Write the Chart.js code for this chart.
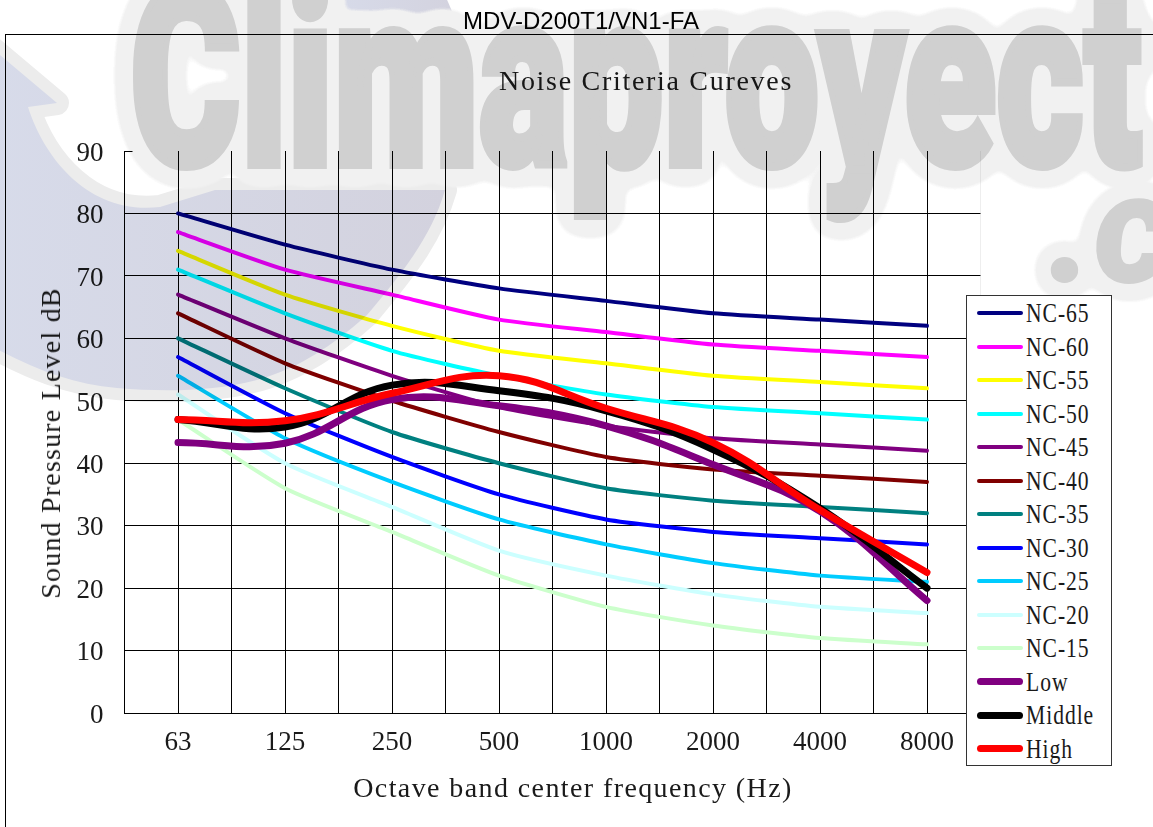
<!DOCTYPE html>
<html>
<head>
<meta charset="utf-8">
<title>MDV-D200T1/VN1-FA</title>
<script src="https://cdn.jsdelivr.net/npm/chart.js@4"></script>
<style>
    html, body { margin: 0; padding: 0; background: #fff; }
    #page { position: relative; width: 1153px; height: 827px; overflow: hidden; }
    #frame { position: absolute; left: 5px; top: 34px; width: 1200px; height: 900px; border: 1px solid #000; }
    canvas { position: absolute; left: 0; top: 0; }
    .txt { position: absolute; white-space: nowrap; color: #1a1a1a; font-family: "Liberation Serif", serif; font-size: 28px; letter-spacing: 1.7px; line-height: 32px; transform: translate(-50%, -50%); }
    #heading { left: 581px; top: 21px; color: #000; font-family: "Liberation Sans", sans-serif; font-size: 24px; letter-spacing: 0; }
    #chartTitle { left: 646px; top: 81px; }
    #xTitle { left: 573px; top: 788px; letter-spacing: 1.4px; }
    #yTitle { left: 51px; top: 443px; letter-spacing: 1.2px; transform: translate(-50%, -50%) rotate(-90deg); }
    #mark { position: absolute; left: 0; top: 0; mix-blend-mode: multiply; pointer-events: none; }
    #legend { position: absolute; left: 966px; top: 295px; width: 146px; height: 471px; box-sizing: border-box; background: #fff; border: 1px solid #333; }
    .row { position: absolute; left: 10px; height: 34px; }
    .swatch { position: absolute; left: 0; width: 46px; border-radius: 4px; }
    .lab { position: absolute; left: 49px; top: 0; line-height: 34px; color: #1a1a1a; font-family: "Liberation Serif", serif; font-size: 27px; letter-spacing: 1.2px; white-space: nowrap; transform: scaleX(0.8); transform-origin: left center; }
</style>
</head>
<body>
<div id="page">
    <div id="frame"></div>
    <canvas id="chart" width="1153" height="827"></canvas>
    <div class="txt" id="heading">MDV-D200T1/VN1-FA</div>
    <div class="txt" id="chartTitle">Noise Criteria Cureves</div>
    <div class="txt" id="xTitle">Octave band center frequency (Hz)</div>
    <div class="txt" id="yTitle">Sound Pressure Level dB</div>

    <!-- watermark that sits over the scanned chart -->
    <svg id="mark" width="1153" height="827" viewBox="0 0 1153 827">
        <defs>
            <linearGradient id="lav" x1="0" x2="1" y1="0" y2="0">
                <stop offset="0" stop-color="#d7dbea"/>
                <stop offset="1" stop-color="#d3d2de"/>
            </linearGradient>
            <filter id="halo" filterUnits="userSpaceOnUse" x="-200" y="-300" width="1600" height="1000">
                <feGaussianBlur in="SourceAlpha" stdDeviation="11"/>
                <feComponentTransfer result="grown"><feFuncA type="linear" slope="40" intercept="-1"/></feComponentTransfer>
                <feFlood flood-color="#f1f1f1"/>
                <feComposite in2="grown" operator="in"/>
                <feMerge><feMergeNode/><feMergeNode in="SourceGraphic"/></feMerge>
            </filter>
        </defs>
        <path d="M-20 38 L57 103 L28 107 C45 160 90 215 160 207 L215 190 L445 190 C432 235 405 270 367 315 C330 348 300 366 267 377 C220 392 165 392 117 388 C70 384 30 368 -20 340 Z"
              fill="url(#lav)" stroke="#ececec" stroke-width="24" stroke-linejoin="round" paint-order="stroke"/>
        <path d="M328 -5 L445 -5 L460 30 L328 30 Z" fill="url(#lav)"/>
        <text x="130" y="165" textLength="1012" lengthAdjust="spacingAndGlyphs" filter="url(#halo)"
              font-family="Roboto" font-weight="900" font-size="250" fill="#d0d0d0" stroke="#d0d0d0" stroke-width="8">Climaproyect</text>
        <text x="1048" y="282" filter="url(#halo)"
              font-family="Roboto" font-weight="900" font-style="italic" font-size="155" fill="#d0d0d0">.c</text>
    </svg>

    <div id="legend"></div>
</div>

<script>
const frequencies = ["63", "125", "250", "500", "1000", "2000", "4000", "8000"];
const yTicks = [0, 10, 20, 30, 40, 50, 60, 70, 80, 90];

const nc65 = [80, 75, 71, 68, 66, 64, 63, 62];
const nc60 = [77, 71, 67, 63, 61, 59, 58, 57];
const nc55 = [74, 67, 62, 58, 56, 54, 53, 52];
const nc50 = [71, 64, 58, 54, 51, 49, 48, 47];
const nc45 = [67, 60, 54, 49, 46, 44, 43, 42];
const nc40 = [64, 56, 50, 45, 41, 39, 38, 37];
const nc35 = [60, 52, 45, 40, 36, 34, 33, 32];
const nc30 = [57, 48, 41, 35, 31, 29, 28, 27];
const nc25 = [54, 44, 37, 31, 27, 24, 22, 21];
const nc20 = [51, 40, 33, 26, 22, 19, 17, 16];
const nc15 = [47, 36, 29, 22, 17, 14, 12, 11];
const low = [43.3, 43.2, 50.2, 49.2, 46, 39.8, 32.3, 18];
const middle = [47, 45.8, 52.5, 51.6, 48.4, 42.2, 32.8, 20];
const high = [47, 46.8, 51.2, 54, 48.8, 43.3, 32.5, 22.5];

const seriesNames = ["NC-65", "NC-60", "NC-55", "NC-50", "NC-45", "NC-40", "NC-35", "NC-30", "NC-25", "NC-20", "NC-15", "Low", "Middle", "High"];
const seriesValues = [nc65, nc60, nc55, nc50, nc45, nc40, nc35, nc30, nc25, nc20, nc15, low, middle, high];
const seriesColors = ["#000080", "#ff00ff", "#ffff00", "#00ffff", "#800080", "#800000", "#008080", "#0000ff", "#00ccff", "#ccffff", "#ccffcc", "#800080", "#000000", "#ff0000"];
const seriesWidths = [4, 4, 4, 4, 4, 4, 4, 4, 4, 4, 4, 7, 7, 7];
const seriesTension = [0.2, 0.2, 0.2, 0.2, 0.2, 0.2, 0.2, 0.2, 0.2, 0.2, 0.2, 0.4, 0.4, 0.4];

const datasets = seriesNames.map((name, i) => ({
    label: name,
    data: seriesValues[i].map((v, j) => ({ x: j, y: v })),
    borderColor: seriesColors[i],
    borderWidth: seriesWidths[i],
    borderCapStyle: "round",
    borderJoinStyle: "round",
    pointRadius: 0,
    tension: seriesTension[i],
    fill: false,
    order: seriesNames.length - i
}));

// short tick at the top of the y axis, there is no grid line at 90
const topTick = {
    id: "topTick",
    afterDraw(chart) {
        const y = Math.round(chart.scales.y.getPixelForValue(90)) + 0.5;
        const left = chart.chartArea.left;
        chart.ctx.save();
        chart.ctx.strokeStyle = "#000";
        chart.ctx.lineWidth = 1;
        chart.ctx.beginPath();
        chart.ctx.moveTo(left, y);
        chart.ctx.lineTo(left + 8, y);
        chart.ctx.stroke();
        chart.ctx.restore();
    }
};

const chart = new Chart(document.getElementById("chart"), {
    type: "line",
    data: { datasets: datasets },
    plugins: [topTick],
    options: {
        responsive: false,
        animation: false,
        layout: { padding: { left: 0, right: 172.5, top: 151, bottom: 0 } },
        plugins: { legend: { display: false }, title: { display: false }, tooltip: { enabled: false } },
        scales: {
            x: {
                type: "linear",
                min: -0.5,
                max: 7.5,
                afterBuildTicks(scale) {
                    const ticks = [];
                    for (let i = -1; i <= 15; i++) ticks.push({ value: i / 2 });
                    scale.ticks = ticks;
                },
                afterFit(scale) { scale.height = 114; },
                border: { color: "#000" },
                grid: {
                    drawTicks: false,
                    tickLength: 0,
                    lineWidth: 1,
                    color: ctx => ctx.tick && ctx.tick.value === 7.5 ? "#eeeeee" : "#000"
                },
                ticks: {
                    autoSkip: false,
                    maxRotation: 0,
                    padding: 14,
                    color: "#1a1a1a",
                    font: { family: "Liberation Serif", size: 27 },
                    callback: v => Number.isInteger(v) ? frequencies[v] : ""
                }
            },
            y: {
                min: 0,
                max: 90,
                afterBuildTicks(scale) { scale.ticks = yTicks.map(v => ({ value: v })); },
                afterFit(scale) { scale.width = 124.5; },
                border: { color: "#000" },
                grid: {
                    drawTicks: false,
                    tickLength: 0,
                    lineWidth: 1,
                    color: ctx => ctx.tick && ctx.tick.value === 90 ? "rgba(0,0,0,0)" : "#000"
                },
                ticks: {
                    padding: 21,
                    color: "#1a1a1a",
                    // the empty first line pushes the digits down onto the grid line
                    font: { family: "Liberation Serif", size: 27, lineHeight: 0.2 },
                    callback: v => ["", String(v)]
                }
            }
        }
    }
});

// legend box, built from the chart's datasets
const legendBox = document.getElementById("legend");
chart.data.datasets.forEach((ds, i) => {
    const row = document.createElement("div");
    row.className = "row";
    row.style.top = (i * 33.5) + "px";
    const swatch = document.createElement("div");
    swatch.className = "swatch";
    swatch.style.background = ds.borderColor;
    swatch.style.height = ds.borderWidth + "px";
    swatch.style.top = (17 - ds.borderWidth / 2) + "px";
    const lab = document.createElement("div");
    lab.className = "lab";
    lab.textContent = ds.label;
    row.appendChild(swatch);
    row.appendChild(lab);
    legendBox.appendChild(row);
});
</script>
</body>
</html>
